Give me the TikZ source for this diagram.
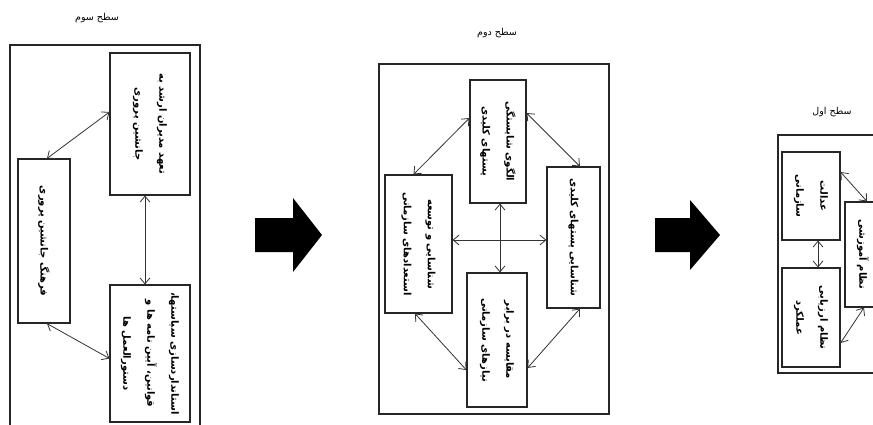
\documentclass[tikz,border=0pt]{standalone}
\usepackage{fontspec}
\TeXXeTstate=1
\newfontfamily\fa[Script=Arabic]{DejaVu Sans}
\usetikzlibrary{arrows.meta}
\begin{document}
\begin{tikzpicture}[x=1pt,y=-1pt,
  box/.style={draw=black!85, line width=1.1pt, inner sep=0pt, fill=white},
  vtext/.style={rotate=-90, font=\fa\bfseries\fontsize{10}{24}\selectfont, align=center, inner sep=0pt},
  ttl/.style={font=\fa\fontsize{9.5}{11}\selectfont, inner sep=0pt},
  link/.style={{Straight Barb[length=6pt,width=10pt]}-{Straight Barb[length=6pt,width=10pt]}, line width=0.8pt, draw=black!80},
  bigarrow/.style={fill=black}]
\useasboundingbox (0,0) rectangle (873,424);
\fill[white] (0,0) rectangle (873,424);
\begin{scope}
\clip (0,0) rectangle (873,424);
% ---------- level 3 ----------
\node[ttl] (t3) at (97,18) {\beginR سطح سوم\endR};
\node[box, fill=none, minimum width=190pt, minimum height=395pt] (o3) at (105,242.5) {};
\node[box, minimum width=80pt, minimum height=142pt] (a3) at (150,124) {};
\node[box, minimum width=52pt, minimum height=164pt] (b3) at (44,241) {};
\node[box, minimum width=80pt, minimum height=137pt] (c3) at (150,353.5) {};
\node[vtext] (ta3) at (a3.center) {\beginR تعهد مدیران ارشد به\endR\\\beginR جانشین پروری\endR};
\node[vtext] (tb3) at (b3.center) {\beginR فرهنگ جانشین پروری\endR};
\node[vtext] (tc3) at (c3.center) {\beginR استانداردسازی سیاستها،\endR\\\beginR قوانین، آیین نامه ها و\endR\\\beginR دستورالعمل ها\endR};
\draw[link] ([xshift=3pt]b3.north) -- ([yshift=12pt]a3.west);
\draw[link] ([xshift=3pt]b3.south) -- ([yshift=-5pt]c3.west);
\draw[link] ([xshift=-5pt]a3.south) -- ([xshift=-5pt]c3.north);
% ---------- big arrows ----------
\fill[bigarrow] (255,218) -- (293,218) -- (293,198) -- (322,235) -- (293,272) -- (293,252) -- (255,252) -- cycle;
\fill[bigarrow] (655,218) -- (690,218) -- (690,200) -- (720,235) -- (690,270) -- (690,252) -- (655,252) -- cycle;
% ---------- level 2 ----------
\node[ttl] (t2) at (497,33) {\beginR سطح دوم\endR};
\node[box, fill=none, minimum width=230pt, minimum height=350pt] (o2) at (494,239) {};
\node[box, minimum width=56pt, minimum height=123pt] (a2) at (498,141.5) {};
\node[box, minimum width=53pt, minimum height=141pt] (r2) at (573.5,237.5) {};
\node[box, minimum width=67pt, minimum height=138pt] (l2) at (418.5,244) {};
\node[box, minimum width=60pt, minimum height=134pt] (d2) at (497,340) {};
\node[vtext] (ta2) at (a2.center) {\beginR الگوی شایستگی\endR\\\beginR پستهای کلیدی\endR};
\node[vtext] (tr2) at (r2.center) {\beginR شناسایی پستهای کلیدی\endR};
\node[vtext] (tl2) at (l2.center) {\beginR شناسایی و توسعه\endR\\\beginR استعدادهای سازمانی\endR};
\node[vtext] (td2) at (d2.center) {\beginR مقایسه در برابر\endR\\\beginR نیازهای سازمانی\endR};
\draw[link] ([yshift=4pt]l2.east) -- ([yshift=-2.5pt]r2.west);
\draw[link] ([xshift=2pt]a2.south) -- ([xshift=3pt]d2.north);
\draw[link] ([yshift=23.5pt]a2.west) -- ([xshift=-5pt]l2.north);
\draw[link] ([yshift=28.5pt]a2.east) -- ([xshift=6.5pt]r2.north);
\draw[link] ([xshift=-3.5pt]l2.south) -- ([yshift=-30pt]d2.west);
\draw[link] ([xshift=6.5pt]r2.south) -- ([yshift=-28pt]d2.east);
% ---------- level 1 ----------
\node[ttl] (t1) at (832,112) {\beginR سطح اول\endR};
\node[box, fill=none, minimum width=130pt, minimum height=238pt] (o1) at (843,254) {};
\node[box, minimum width=58pt, minimum height=88pt] (a1) at (811,196) {};
\node[box, minimum width=58pt, minimum height=99pt] (b1) at (811,317.5) {};
\node[box, minimum width=60pt, minimum height=105pt] (c1) at (875,254.5) {};
\node[vtext] (ta1) at (a1.center) {\beginR عدالت\endR\\\beginR سازمانی\endR};
\node[vtext] (tb1) at (b1.center) {\beginR نظام ارزیابی\endR\\\beginR عملکرد\endR};
\node[vtext] (tc1) at (863,254.5) {\beginR نظام آموزشی\endR};
\draw[link] ([xshift=7pt]a1.south) -- ([xshift=7pt]b1.north);
\draw[link] ([yshift=24pt]a1.east) -- ([xshift=-8pt]c1.north);
\draw[link] ([yshift=-25.5pt]b1.east) -- ([xshift=-11pt]c1.south);
\end{scope}
\end{tikzpicture}
\end{document}
